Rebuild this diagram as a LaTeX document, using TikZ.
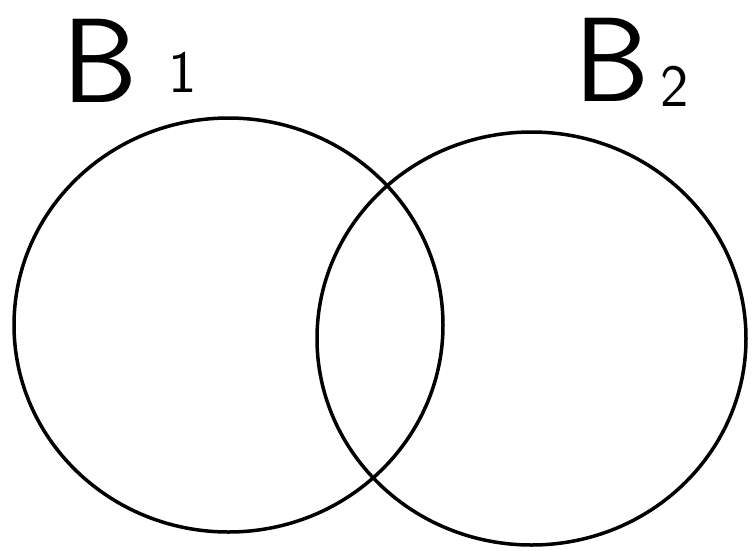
\documentclass[tikz,border=0pt]{standalone}
\begin{document}
\begin{tikzpicture}[x=1pt,y=-1pt,
  setring/.style={draw=black,line width=3.5pt},
  handlabel/.style={font=\sffamily\fontsize{120}{120}\selectfont,inner sep=0pt,anchor=base west},
  handsub/.style={font=\sffamily\fontsize{60}{60}\selectfont,inner sep=0pt,anchor=base west}]
\useasboundingbox (0,0) rectangle (753,550);
\draw[setring] (228.5,325) ellipse [x radius=214.5, y radius=207];
\draw[setring] (531.5,338.5) ellipse [x radius=214.5, y radius=206.5];
\node[handlabel] (b1) at (62,102) {B};
\node[handsub] (s1) at (168,92) {1};
\node[handlabel] (b2) at (574,101) {B};
\node[handsub] (s2) at (660,106) {2};
\end{tikzpicture}
\end{document}
